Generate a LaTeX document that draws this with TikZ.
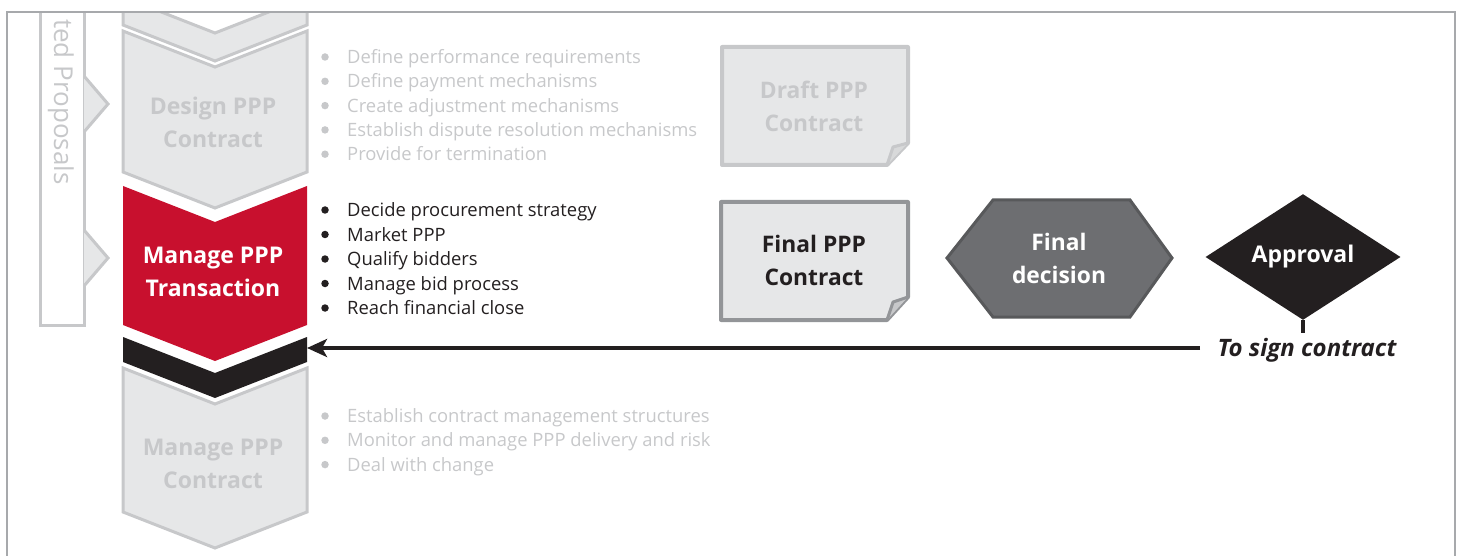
\documentclass[tikz,border=0pt]{standalone}
\usepackage{fontspec}
\setmainfont{Open Sans}
\usetikzlibrary{arrows.meta,shapes.geometric}
\definecolor{lgfill}{HTML}{E6E7E8}
\definecolor{lgline}{HTML}{C7C8CA}
\definecolor{lgtext}{HTML}{C7C8CA}
\definecolor{framec}{HTML}{A7A9AC}
\definecolor{pppred}{HTML}{C8102E}
\definecolor{pppblack}{HTML}{231F20}
\definecolor{docline}{HTML}{939598}
\definecolor{hexfill}{HTML}{6D6E71}
\definecolor{hexline}{HTML}{58595B}
\tikzset{
  graychev/.style={fill=lgfill,draw=lgline,line width=3pt,line join=miter},
  chevtitle/.style={font=\bfseries\fontsize{23}{33}\selectfont,align=center,inner sep=0pt},
  itemtext/.style={font=\fontsize{18.4}{20}\selectfont,anchor=base west,inner sep=0pt},
  bulletdot/.style={circle,inner sep=0pt,minimum size=7.5pt},
  docbox/.style={fill=lgfill,line width=4pt,line join=round},
  doctitle/.style={font=\bfseries\fontsize{22.8}{33}\selectfont,align=center,inner sep=0pt},
}
\newcommand\chevpath[2]{(123,#1) -- (215,{#1+36}) -- (307,#1) -- (307,#2) -- (215,{#2+36}) -- (123,#2) -- cycle}
\begin{document}
\begin{tikzpicture}[x=1pt,y=-1pt]
\useasboundingbox (0,0) rectangle (1459,556);
% clipped top part
\begin{scope}
\clip (0,12) rectangle (1459,556);
\draw[graychev] \chevpath{-3}{25};
% left vertical bar
\draw[lgline,line width=3pt,line join=miter] (40,0) -- (40,325) -- (84,325) -- (84,0);
\node[rotate=-90,anchor=west,text=lgtext,font=\fontsize{26}{28}\selectfont,inner sep=0pt] (barlabel) at (61,19) {ted Proposals};
\end{scope}
\draw[fill=lgfill,draw=lgline,line width=3pt,line join=miter] (84,76) -- (108,104) -- (84,132);
\draw[fill=lgfill,draw=lgline,line width=3pt,line join=miter] (84,230) -- (108,258) -- (84,286);
% chevrons
\draw[graychev] \chevpath{31}{172};
\fill[pppred] \chevpath{186}{325};
\fill[pppblack] \chevpath{337}{362};
\draw[graychev] \chevpath{368}{512};
\node[chevtitle,text=lgtext] (design) at (213,122) {Design PPP\\Contract};
\node[chevtitle,text=white] (transaction) at (213,272) {Manage PPP\\Transaction};
\node[chevtitle,text=lgtext] (mcontract) at (213,464) {Manage PPP\\Contract};
\coordinate (bandE) at (307,348);
% bullet lists
\foreach \t [count=\i] in {Define performance requirements,Define payment mechanisms,Create adjustment mechanisms,Establish dispute resolution mechanisms,Provide for termination}{
  \pgfmathsetmacro\yy{57+24.3*(\i-1)}
  \node[bulletdot,fill=lgtext] (ga\i) at (325,\yy) {};
  \node[itemtext,text=lgtext] (gat\i) at (347,\yy+6.5) {\t};
}
\foreach \t [count=\i] in {Decide procurement strategy,Market PPP,Qualify bidders,Manage bid process,Reach financial close}{
  \pgfmathsetmacro\yy{210+24.5*(\i-1)}
  \node[bulletdot,fill=pppblack] (bb\i) at (325,\yy) {};
  \node[itemtext,text=pppblack] (bbt\i) at (347,\yy+6.5) {\t};
}
\foreach \t [count=\i] in {Establish contract management structures,Monitor and manage PPP delivery and risk,Deal with change}{
  \pgfmathsetmacro\yy{416+24.3*(\i-1)}
  \node[bulletdot,fill=lgtext] (gc\i) at (325,\yy) {};
  \node[itemtext,text=lgtext] (gct\i) at (347,\yy+6.5) {\t};
}
% documents
\draw[docbox,draw=lgline] (722,47) -- (908,47) -- (908,143) -- (887,165) -- (722,165) -- cycle;
\draw[fill=lgline!70!white,draw=lgline,line width=3pt,line join=round] (908,143) -- (893,147) -- (887,165);
\node[doctitle,text=lgtext] (draft) at (814,106) {Draft PPP\\Contract};
\draw[docbox,draw=docline] (721,202) -- (908,202) -- (908,297) -- (887,320) -- (721,320) -- cycle;
\draw[fill=lgline,draw=docline,line width=3pt,line join=round] (908,297) -- (893,302) -- (887,320);
\node[doctitle,text=pppblack] (final) at (814,260) {Final PPP\\Contract};
% hexagon
\draw[fill=hexfill,draw=hexline,line width=3pt,line join=miter] (947,258) -- (993,200) -- (1130,200) -- (1172,258) -- (1130,317) -- (993,317) -- cycle;
\node[doctitle,text=white] (decision) at (1059,258) {Final\\decision};
% diamond
\node[diamond,fill=pppblack,minimum width=195pt,minimum height=80pt,inner sep=0pt,text=white,font=\bfseries\fontsize{23}{25}\selectfont] (approval) at (1303,257) {Approval};
\coordinate (stemend) at (1303,333);
\draw[pppblack,line width=4pt] (approval.south) -- (stemend);
\node[font=\bfseries\itshape\fontsize{24}{26}\selectfont,text=pppblack,inner sep=0pt] (sign) at (1307,350) {To sign contract};
\coordinate (arrS) at (1200,348);
\draw[pppblack,line width=4pt,-{Stealth[length=20pt,width=18pt,inset=5pt]}] (arrS) -- (bandE);
% frame
\draw[framec,line width=2.5pt] (7,570) -- (7,12) -- (1455,12) -- (1455,570);
\end{tikzpicture}
\end{document}
